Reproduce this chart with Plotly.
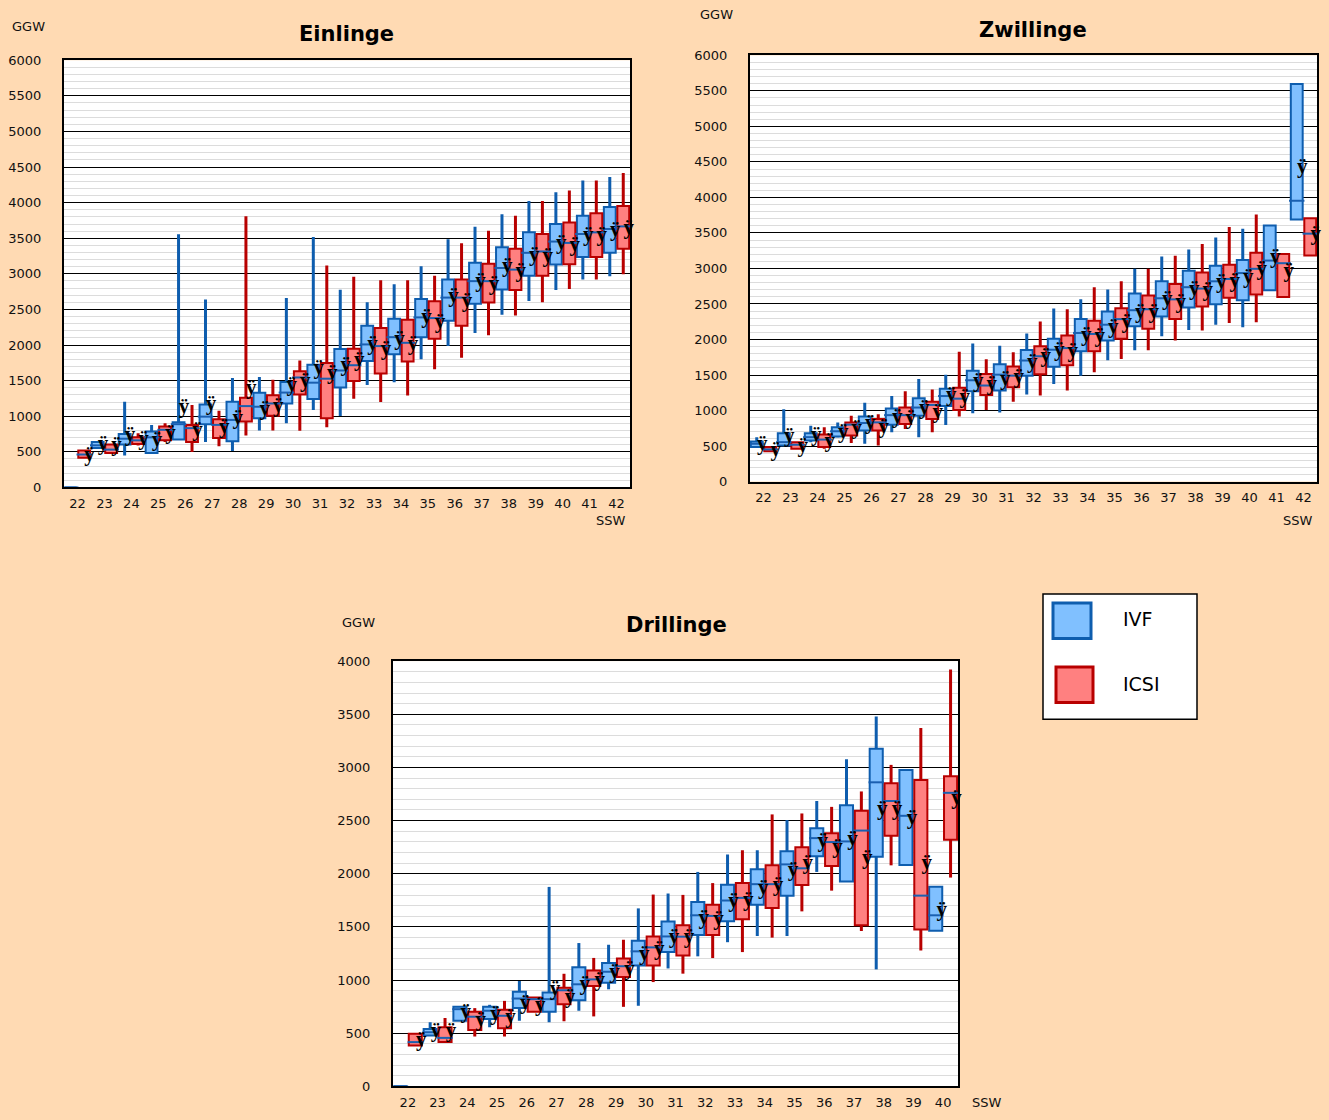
import plotly.graph_objects as go

W, H = 1329, 1120
BG = "#FFDAB3"
IVF_FILL, IVF_EDGE = "#80C0FF", "#0E5DAE"
ICSI_FILL, ICSI_EDGE = "#FF8080", "#B80000"
MEDIAN_COLOR = "#1A5FB0"

# --- data: [min, q1, median, q3, max, mean] per week ---------------------
WEEKS_EIN = list(range(22, 43))
EIN_IVF_MIN = [0, 555, 449, 470, 675, 639, 513, 801, 903, 1088, 1004, 1440, 1477, 1801, 1986, 2171, 2426, 2620, 2773, 2921, 2967]
EIN_IVF_Q1 = [0, 555, 602, 486, 675, 889, 648, 972, 1180, 1241, 1403, 1778, 1870, 2111, 2342, 2579, 2782, 2972, 3130, 3236, 3296]
EIN_IVF_MED = [0, 592, 685, 704, 889, 995, 949, 1134, 1333, 1472, 1643, 2009, 2111, 2389, 2667, 2898, 3083, 3296, 3454, 3560, 3630]
EIN_IVF_Q3 = [0, 639, 750, 787, 917, 1166, 1204, 1329, 1481, 1722, 1944, 2273, 2370, 2648, 2921, 3157, 3375, 3583, 3699, 3815, 3940]
EIN_IVF_MAX = [0, 639, 1204, 879, 3556, 2639, 1537, 1551, 2662, 3518, 2778, 2602, 2856, 3106, 3486, 3662, 3838, 4023, 4148, 4310, 4361]
EIN_IVF_MEAN = [None, 600, 727, 650, 1115, 1167, 970, 1088, 1435, 1667, 1713, 2009, 2079, 2380, 2680, 2890, 3097, 3259, 3421, 3537, 3606]

EIN_ICSI_MIN = [416, 486, 590, 640, 500, 578, 731, 801, 796, 847, 1245, 1199, 1291, 1662, 1823, 2139, 2417, 2602, 2787, 2921, 2995]
EIN_ICSI_Q1 = [416, 486, 611, 662, 639, 694, 926, 1009, 1305, 972, 1495, 1602, 1768, 2088, 2273, 2597, 2773, 2972, 3134, 3236, 3352]
EIN_ICSI_MED = [463, 532, 662, 810, 833, 879, 1143, 1180, 1545, 1528, 1717, 1986, 2032, 2379, 2667, 2898, 3060, 3315, 3435, 3583, 3667]
EIN_ICSI_Q3 = [518, 602, 704, 856, 879, 958, 1259, 1296, 1634, 1750, 1949, 2241, 2356, 2616, 2921, 3143, 3352, 3560, 3722, 3852, 3954]
EIN_ICSI_MAX = [518, 602, 763, 903, 1157, 1078, 3810, 1514, 1782, 3116, 2958, 2912, 2912, 2972, 3430, 3606, 3815, 4023, 4171, 4310, 4417]
EIN_ICSI_MEAN = [440, 580, 670, 760, 790, 833, 1389, 1134, 1480, 1597, 1777, 1940, 2009, 2310, 2610, 2843, 3028, 3236, 3398, 3537, 3630]

WEEKS_ZWI = list(range(22, 43))
ZWI_IVF_MIN = [486, 509, 555, 625, 532, 694, 625, 796, 963, 972, 1227, 1375, 1491, 1708, 1847, 2046, 2134, 2208, 2171, 2694, 3689]
ZWI_IVF_Q1 = [486, 509, 578, 634, 717, 801, 925, 1065, 1273, 1282, 1491, 1615, 1833, 1986, 2185, 2324, 2449, 2495, 2551, 2694, 3689]
ZWI_IVF_MED = [532, 555, 625, 708, 824, 935, 1042, 1204, 1426, 1505, 1704, 1856, 2092, 2208, 2412, 2580, 2736, 2819, 2935, 3111, 3953]
ZWI_IVF_Q3 = [565, 680, 680, 764, 917, 1028, 1171, 1305, 1560, 1653, 1852, 2009, 2287, 2393, 2648, 2819, 2967, 3037, 3120, 3606, 5597]
ZWI_IVF_MAX = [625, 1018, 787, 833, 1111, 1204, 1444, 1505, 1944, 1912, 2083, 2435, 2565, 2704, 2995, 3167, 3268, 3435, 3560, 3606, 5597]
ZWI_IVF_MEAN = [520, 634, 648, 694, 810, 903, 1018, 1204, 1412, 1435, 1667, 1847, 2055, 2171, 2380, 2565, 2704, 2796, 2866, 3157, 4420]

ZWI_ICSI_MIN = [426, 463, 463, 541, 509, 739, 694, 917, 1009, 1125, 1213, 1282, 1537, 1724, 1847, 1986, 2125, 2231, 2241, 2597, 3181]
ZWI_ICSI_Q1 = [426, 463, 486, 647, 717, 810, 879, 1009, 1217, 1329, 1509, 1639, 1833, 2009, 2150, 2287, 2463, 2588, 2634, 2597, 3181]
ZWI_ICSI_MED = [453, 518, 591, 801, 833, 935, 1079, 1167, 1352, 1491, 1764, 1879, 2078, 2287, 2426, 2565, 2717, 2852, 2995, 3074, 3490]
ZWI_ICSI_Q3 = [486, 555, 662, 833, 879, 1042, 1125, 1319, 1514, 1620, 1903, 2055, 2264, 2440, 2620, 2782, 2944, 3051, 3222, 3204, 3708]
ZWI_ICSI_MAX = [486, 555, 764, 926, 948, 1273, 1296, 1829, 1722, 1819, 2254, 2426, 2736, 2819, 2995, 3180, 3343, 3583, 3759, 3204, 3708]
ZWI_ICSI_MEAN = [430, 486, 555, 741, 764, 880, 972, 1180, 1366, 1458, 1754, 1824, 2032, 2241, 2380, 2518, 2680, 2819, 2981, 2958, 3470]

WEEKS_DRI = list(range(22, 41))
DRI_IVF_MIN = [0, 478, 618, 556, 618, 602, 711, 913, 758, 1109, 1223, 1356, 1414, 1414, 2017, 1927, 1100, 2082, 1464]
DRI_IVF_Q1 = [0, 478, 618, 633, 736, 702, 810, 975, 1137, 1264, 1424, 1553, 1708, 1794, 2165, 1927, 2159, 2082, 1464]
DRI_IVF_MED = [0, 509, 726, 711, 826, 820, 960, 1078, 1270, 1410, 1609, 1748, 1902, 2088, 2335, 2304, 2860, 2545, 1609]
DRI_IVF_Q3 = [0, 540, 748, 748, 891, 882, 1121, 1161, 1369, 1550, 1733, 1896, 2042, 2211, 2428, 2644, 3176, 2975, 1878]
DRI_IVF_MAX = [0, 602, 748, 767, 991, 1876, 1348, 1332, 1674, 1814, 2017, 2181, 2221, 2505, 2684, 3077, 3478, 2975, 1878]
DRI_IVF_MEAN = [None, 509, 695, 674, 773, 913, 960, 1068, 1239, 1394, 1578, 1733, 1856, 2026, 2304, 2320, 2598, 2520, 1655]

DRI_ICSI_MIN = [385, 416, 469, 469, 702, 612, 658, 748, 981, 1060, 1207, 1263, 1399, 1646, 1841, 1461, 2079, 1278, 1964]
DRI_ICSI_Q1 = [385, 416, 531, 546, 702, 773, 944, 1028, 1137, 1232, 1424, 1572, 1677, 1893, 2072, 1516, 2357, 1476, 2320]
DRI_ICSI_MED = [416, 456, 655, 664, 820, 904, 1006, 1130, 1307, 1408, 1603, 1773, 1902, 2051, 2298, 2406, 2684, 1794, 2761]
DRI_ICSI_Q3 = [494, 556, 702, 720, 835, 928, 1090, 1202, 1410, 1516, 1708, 1912, 2079, 2249, 2381, 2592, 2851, 2882, 2916]
DRI_ICSI_MAX = [494, 643, 736, 804, 835, 1059, 1208, 1379, 1804, 1801, 1912, 2221, 2558, 2567, 2629, 2774, 3024, 3370, 3920]
DRI_ICSI_MEAN = [425, 509, 618, 649, 758, 835, 991, 1099, 1286, 1393, 1563, 1748, 1887, 2097, 2242, 2143, 2598, 2097, 2706]


def px_x(v):
    return v / W


def px_y(v):
    return 1 - v / H


def add_chart(fig, n, weeks, ivf, icsi):
    xa = "x" if n == 1 else f"x{n}"
    ya = "y" if n == 1 else f"y{n}"
    series = [
        ("IVF", ivf, -0.25, IVF_FILL, IVF_EDGE),
        ("ICSI", icsi, 0.25, ICSI_FILL, ICSI_EDGE),
    ]
    # whiskers (split around the box, scatter draws above bars)
    for name, (mins, q1, med, q3, maxs, mean), off, fill, edge in series:
        pos = [w + off for w in weeks]
        wx, wy = [], []
        for p, lo, a, b, hi in zip(pos, mins, q1, q3, maxs):
            if lo < a:
                wx += [p, p, None]
                wy += [lo, a, None]
            if hi > b:
                wx += [p, p, None]
                wy += [b, hi, None]
        fig.add_trace(go.Scatter(
            x=wx, y=wy, mode="lines", line=dict(color=edge, width=3),
            xaxis=xa, yaxis=ya, showlegend=False, hoverinfo="skip",
        ))
    for name, (mins, q1, med, q3, maxs, mean), off, fill, edge in series:
        pos = [w + off for w in weeks]
        fig.add_trace(go.Bar(
            x=pos, y=[b - a for a, b in zip(q1, q3)], base=q1, width=0.44,
            marker=dict(color=fill, line=dict(color=edge, width=2)),
            xaxis=xa, yaxis=ya, showlegend=False, name=name,
        ))
    for name, (mins, q1, med, q3, maxs, mean), off, fill, edge in series:
        pos = [w + off for w in weeks]
        fig.add_trace(go.Scatter(
            x=pos, y=med, mode="markers", cliponaxis=False,
            marker=dict(symbol="line-ew", size=11,
                        line=dict(color=MEDIAN_COLOR, width=2)),
            xaxis=xa, yaxis=ya, showlegend=False, hoverinfo="skip",
        ))
    for name, (mins, q1, med, q3, maxs, mean), off, fill, edge in series:
        pos = [w + off + 0.2 for w in weeks]
        fig.add_trace(go.Scatter(
            x=pos, y=mean, mode="text", cliponaxis=False,
            text=["ÿ" if m is not None else "" for m in mean],
            textposition="middle center",
            textfont=dict(family="Liberation Serif", size=21, color="black",
                          weight="bold"),
            xaxis=xa, yaxis=ya, showlegend=False, hoverinfo="skip",
        ))


fig = go.Figure()
add_chart(fig, 1, WEEKS_EIN,
          (EIN_IVF_MIN, EIN_IVF_Q1, EIN_IVF_MED, EIN_IVF_Q3, EIN_IVF_MAX, EIN_IVF_MEAN),
          (EIN_ICSI_MIN, EIN_ICSI_Q1, EIN_ICSI_MED, EIN_ICSI_Q3, EIN_ICSI_MAX, EIN_ICSI_MEAN))
add_chart(fig, 2, WEEKS_ZWI,
          (ZWI_IVF_MIN, ZWI_IVF_Q1, ZWI_IVF_MED, ZWI_IVF_Q3, ZWI_IVF_MAX, ZWI_IVF_MEAN),
          (ZWI_ICSI_MIN, ZWI_ICSI_Q1, ZWI_ICSI_MED, ZWI_ICSI_Q3, ZWI_ICSI_MAX, ZWI_ICSI_MEAN))
add_chart(fig, 3, WEEKS_DRI,
          (DRI_IVF_MIN, DRI_IVF_Q1, DRI_IVF_MED, DRI_IVF_Q3, DRI_IVF_MAX, DRI_IVF_MEAN),
          (DRI_ICSI_MIN, DRI_ICSI_Q1, DRI_ICSI_MED, DRI_ICSI_Q3, DRI_ICSI_MAX, DRI_ICSI_MEAN))

TICK_FONT = dict(family="DejaVu Sans", size=13, color="#111111")


def xaxis(weeks, left, right):
    return dict(
        domain=[px_x(left), px_x(right)],
        range=[weeks[0] - 0.5, weeks[-1] + 0.5],
        tickvals=weeks, ticktext=[str(w) for w in weeks],
        showgrid=False, zeroline=False, ticks="",
        showline=True, mirror=True, linecolor="black", linewidth=2,
        tickfont=TICK_FONT, ticklabelstandoff=3,
    )


def yaxis(anchor, top, bottom, ymax):
    return dict(
        anchor=anchor,
        domain=[px_y(bottom), px_y(top)],
        range=[0, ymax], dtick=500, tickformat="d",
        showgrid=True, gridcolor="black", gridwidth=1, zeroline=False,
        minor=dict(dtick=100, showgrid=True, gridcolor="#DCDCDC", gridwidth=1),
        showline=True, mirror=True, linecolor="black", linewidth=2,
        ticks="", tickfont=TICK_FONT, ticklabelstandoff=18,
    )


fig.update_layout(
    width=W, height=H,
    margin=dict(l=0, r=0, t=0, b=0),
    paper_bgcolor=BG, plot_bgcolor="white",
    barmode="overlay", showlegend=False,
    xaxis=dict(anchor="y", **xaxis(WEEKS_EIN, 64, 630)),
    yaxis=yaxis("x", 54, 487, 6000),
    xaxis2=dict(anchor="y2", **xaxis(WEEKS_ZWI, 750, 1317)),
    yaxis2=yaxis("x2", 49, 481, 6000),
    xaxis3=dict(anchor="y3", **xaxis(WEEKS_DRI, 393, 958)),
    yaxis3=yaxis("x3", 663, 1094, 4000),
)

ann = []
TITLE_FONT = dict(family="DejaVu Sans", size=21, color="black", weight="bold")
SMALL_FONT = dict(family="DejaVu Sans", size=13, color="#111111")
for text, x, y in (("Einlinge", 346, 27), ("Zwillinge", 1033, 23), ("Drillinge", 676, 626)):
    ann.append(dict(text=text, x=px_x(x), y=px_y(y), font=TITLE_FONT))
for x, y in ((28, 20), (716, 8), (359, 624)):
    ann.append(dict(text="GGW", x=px_x(x), y=px_y(y), font=SMALL_FONT))
for x, y in ((611, 520), (1298, 520), (987, 1110)):
    ann.append(dict(text="SSW", x=px_x(x), y=px_y(y), font=SMALL_FONT))
LEG_FONT = dict(family="DejaVu Sans", size=19, color="black")
ann.append(dict(text="IVF", x=px_x(1121), y=px_y(620), xanchor="left", font=LEG_FONT))
ann.append(dict(text="ICSI", x=px_x(1121), y=px_y(686), xanchor="left", font=LEG_FONT))
for a in ann:
    a.update(xref="paper", yref="paper", showarrow=False)
    a.setdefault("xanchor", "center")
    a["yanchor"] = "middle"
fig.update_layout(annotations=ann)

# legend box drawn by hand (large swatches like the original)
shapes = [
    dict(type="rect", x0=px_x(1043), x1=px_x(1197), y0=px_y(722), y1=px_y(595),
         fillcolor="white", line=dict(color="black", width=1.5)),
    dict(type="rect", x0=px_x(1053), x1=px_x(1091), y0=px_y(640), y1=px_y(604),
         fillcolor=IVF_FILL, line=dict(color=IVF_EDGE, width=3)),
    dict(type="rect", x0=px_x(1056), x1=px_x(1093), y0=px_y(705), y1=px_y(669),
         fillcolor=ICSI_FILL, line=dict(color=ICSI_EDGE, width=3)),
]
for s in shapes:
    s.update(xref="paper", yref="paper", layer="above")
fig.update_layout(shapes=shapes)

# pin the graph to the top-left corner of the window
PAGE_FIX = (
    "var gd = document.getElementById('{plot_id}');"
    "gd.style.position = 'fixed'; gd.style.top = '0'; gd.style.left = '0';"
    "document.body.style.margin = '0';"
    "document.body.style.background = '" + BG + "';"
)
fig.write_html("out.html", config={"displayModeBar": False}, post_script=PAGE_FIX)
